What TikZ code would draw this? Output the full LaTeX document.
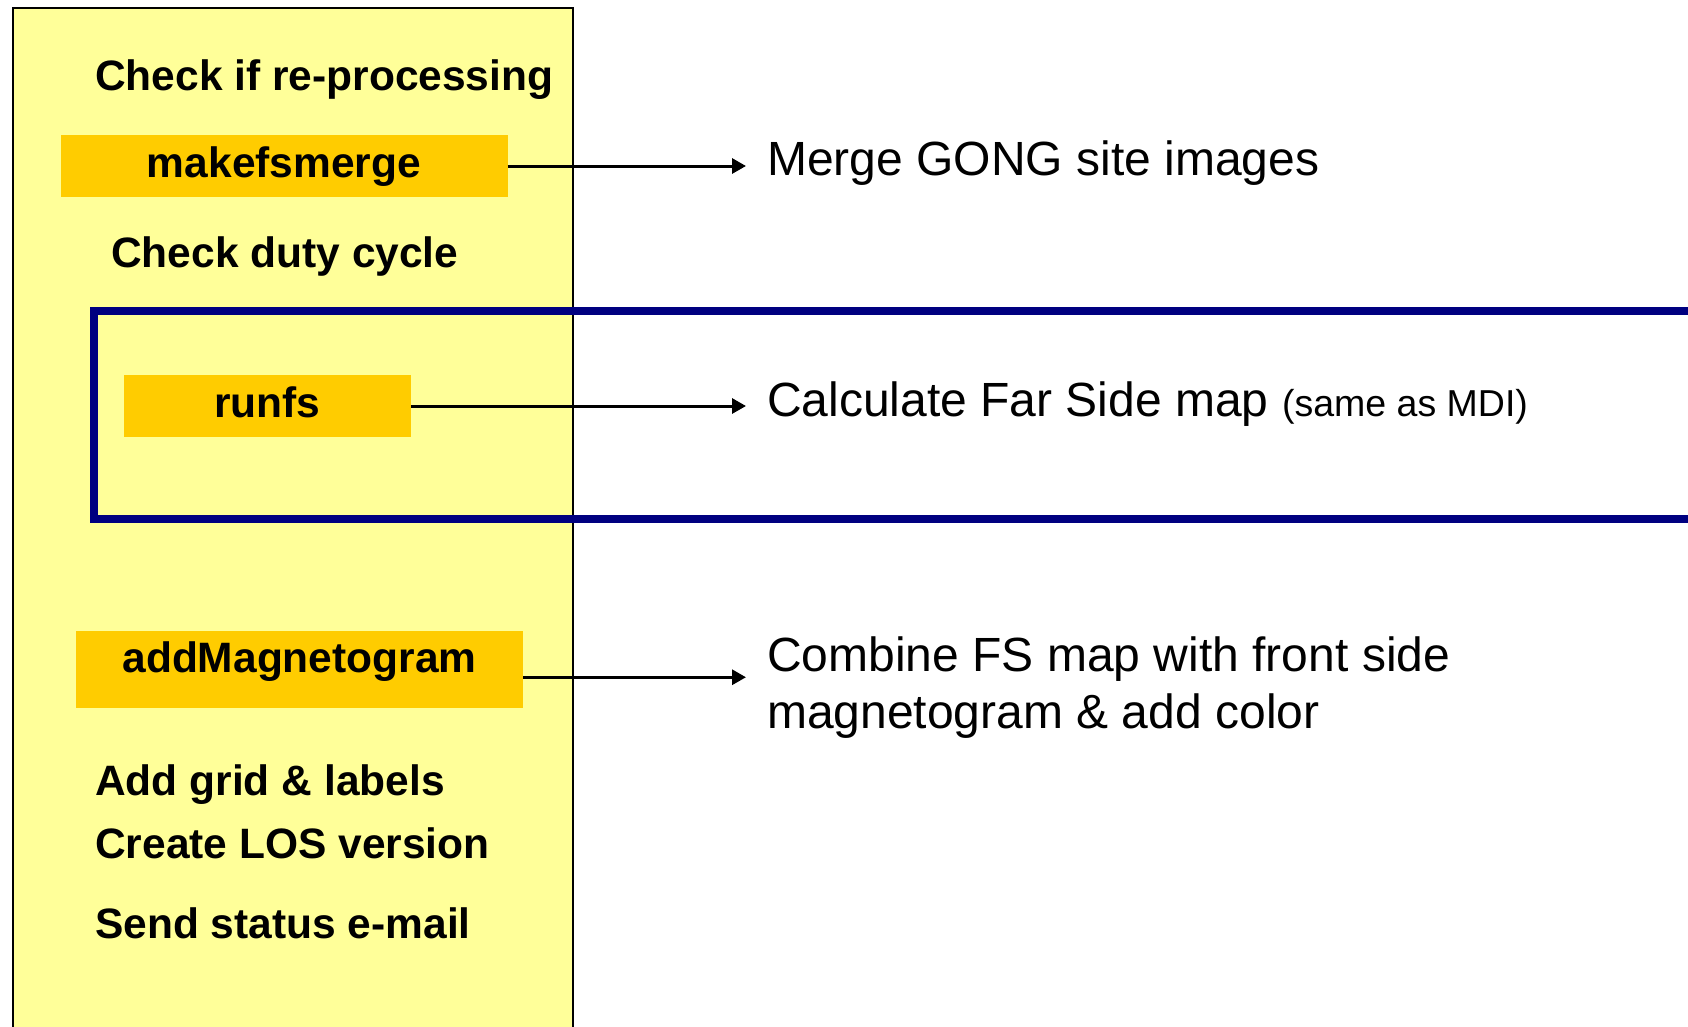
\documentclass[tikz,border=0pt]{standalone}
\usepackage{fontspec}
\setmainfont{Liberation Sans}
\usetikzlibrary{arrows.meta,calc}
\definecolor{panelyellow}{HTML}{FFFF99}
\definecolor{boxorange}{HTML}{FFCC00}
\definecolor{navyblue}{HTML}{000080}
\begin{document}
\begin{tikzpicture}[x=1pt,y=-1pt,
  steptext/.style={anchor=base west, font=\fontsize{42.5}{50}\selectfont\bfseries, inner sep=0pt},
  progbox/.style={fill=boxorange, draw=none, inner sep=0pt, text height=42pt, text depth=20pt, anchor=base, font=\fontsize{42.5}{50}\selectfont\bfseries},
  desctext/.style={anchor=base west, font=\fontsize{48}{56}\selectfont, inner sep=0pt},
  conn/.style={line width=3pt, -{Triangle[length=14pt,width=15pt]}},
  panelbox/.style={draw=black, line width=2pt, fill=panelyellow, anchor=north west, inner sep=0pt},
  groupbox/.style={draw=navyblue, line width=8pt, anchor=north west, inner sep=0pt}
]
\useasboundingbox (0,0) rectangle (1688,1026);
\fill[white] (0,0) rectangle (1688,1026);
\clip (0,0) rectangle (1688,1026);

\node[panelbox, minimum width=560pt, minimum height=1040pt] (panel) at (12,6.5) {};

\node[steptext] (chk1) at (95,90) {Check if re-processing};
\node[progbox, minimum width=447pt] (mfm) at (284,177) {makefsmerge};
\node[steptext] (chk2) at (111,267) {Check duty cycle};
\node[progbox, minimum width=287pt] (runfs) at (267.5,417) {runfs};
\node[progbox, minimum width=447pt, text height=41pt, text depth=36pt] (am) at (299.5,672) {addMagnetogram};
\node[steptext] (grid) at (95,795) {Add grid \& labels};
\node[steptext] (los) at (95,858) {Create LOS version};
\node[steptext] (mail) at (95,938) {Send status e-mail};

\node[desctext] (d1) at (767,175) {Merge GONG site images};
\node[desctext] (d2) at (767,416) {Calculate Far Side map {\fontsize{37.5}{42}\selectfont(same as MDI)}};
\node[desctext] (d3) at (767,671) {Combine FS map with front side};
\node[desctext] (d4) at (767,728) {magnetogram \& add color};

\coordinate (tipx) at (746,0);
\coordinate (am3) at ($(am.north east)!0.6!(am.south east)$);
\draw[conn] (mfm.east) -- (mfm.east -| tipx);
\draw[conn] (runfs.east) -- (runfs.east -| tipx);
\draw[conn] (am3) -- (am3 -| tipx);

\node[groupbox, minimum width=1640pt, minimum height=208pt] (fsbox) at (90,307) {};
\end{tikzpicture}
\end{document}
